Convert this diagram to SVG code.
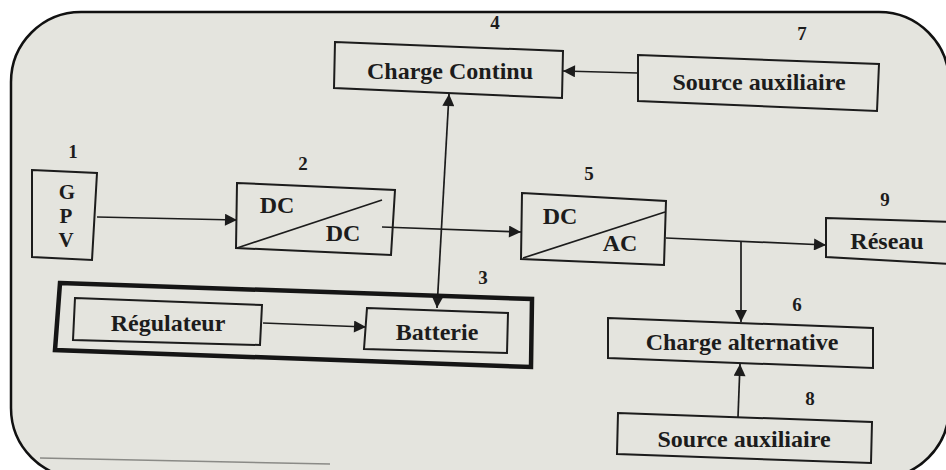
<svg xmlns="http://www.w3.org/2000/svg" width="946" height="470" viewBox="0 0 946 470">
<defs>
<style>
.box{fill:none;stroke:#1c1c1c;stroke-width:2}
.thick{fill:none;stroke:#151515;stroke-width:4.5}
.t{font-family:'Liberation Serif','Times New Roman','DejaVu Serif',serif;font-weight:bold;font-size:24px;fill:#1c1c1c;text-anchor:middle}
.g{font-size:21px}
.n{font-family:'Liberation Serif','Times New Roman','DejaVu Serif',serif;font-weight:bold;font-size:19px;fill:#1c1c1c;text-anchor:middle}
.c{fill:none;stroke:#1c1c1c;stroke-width:1.7}
</style>
<marker id="ah" viewBox="0 0 10 10" refX="10" refY="5" markerWidth="13" markerHeight="12" markerUnits="userSpaceOnUse" orient="auto-start-reverse">
<path d="M0,0 L10,5 L0,10 z" fill="#1c1c1c"/>
</marker>
</defs>
<rect x="0" y="0" width="946" height="470" fill="#ffffff"/>
<rect x="11" y="12" width="938" height="466" rx="70" ry="70" fill="#e4e4de" stroke="#111" stroke-width="2.5"/>
<path d="M40,458 L330,464" fill="none" stroke="#8a8a86" stroke-width="1.5"/>

<g id="connectors">
<line class="c" x1="97" y1="217" x2="237" y2="220" marker-end="url(#ah)"/>
<line class="c" x1="382" y1="227" x2="521" y2="232" marker-end="url(#ah)"/>
<line class="c" x1="666" y1="238" x2="826" y2="245" marker-end="url(#ah)"/>
<line class="c" x1="741" y1="241" x2="741" y2="322" marker-end="url(#ah)"/>
<line class="c" x1="738" y1="417" x2="740" y2="364" marker-end="url(#ah)"/>
<line class="c" x1="638" y1="73" x2="563" y2="71" marker-end="url(#ah)"/>
<line class="c" x1="263" y1="323" x2="366" y2="327" marker-end="url(#ah)"/>
<line class="c" x1="437" y1="308" x2="449" y2="94" marker-start="url(#ah)" marker-end="url(#ah)"/>
</g>

<g id="n1">
<polygon class="box" points="32,170 97,173 92,260 32,257" stroke-width="3"/>
<text class="n" x="73" y="158">1</text>
<text class="t g" x="67" y="199">G</text>
<text class="t g" x="66" y="223">P</text>
<text class="t g" x="66" y="247">V</text>
</g>

<g id="n2">
<polygon class="box" points="237,183 395,190 391,255 236,248" stroke-width="3"/>
<line class="c" x1="237" y1="248" x2="382" y2="200"/>
<text class="n" x="303" y="170">2</text>
<text class="t" x="277" y="213">DC</text>
<text class="t" x="343" y="241">DC</text>
</g>

<g id="n3">
<polygon class="thick" points="60,283 532,299 531,367 55,350"/>
<text class="n" x="483" y="284">3</text>
</g>

<g id="reg">
<polygon class="box" points="75,298 262,305 260,345 73,340"/>
<text class="t" x="168" y="331">Régulateur</text>
</g>

<g id="bat">
<polygon class="box" points="367,308 508,313 507,353 364,349"/>
<text class="t" x="437" y="340">Batterie</text>
</g>

<g id="n4">
<polygon class="box" points="335,42 563,51 562,98 334,88"/>
<text class="n" x="495" y="29">4</text>
<text class="t" x="450" y="79">Charge Continu</text>
</g>

<g id="n7">
<polygon class="box" points="638,55 879,64 877,111 638,101"/>
<text class="n" x="802" y="40">7</text>
<text class="t" x="759" y="90">Source auxiliaire</text>
</g>

<g id="n5">
<polygon class="box" points="522,193 666,201 664,265 521,259" stroke-width="3"/>
<line class="c" x1="523" y1="258" x2="665" y2="212"/>
<text class="n" x="589" y="180">5</text>
<text class="t" x="560" y="224">DC</text>
<text class="t" x="620" y="251">AC</text>
</g>

<g id="n9">
<polygon class="box" points="826,218 952,222 952,264 826,257" stroke-width="3"/>
<text class="n" x="885" y="206">9</text>
<text class="t" x="887" y="249">Réseau</text>
</g>

<g id="n6">
<polygon class="box" points="608,318 873,328 873,368 608,358"/>
<text class="n" x="797" y="311">6</text>
<text class="t" x="742" y="350">Charge alternative</text>
</g>

<g id="n8">
<polygon class="box" points="618,413 872,422 871,463 617,454"/>
<text class="n" x="810" y="405">8</text>
<text class="t" x="744" y="447">Source auxiliaire</text>
</g>
</svg>
